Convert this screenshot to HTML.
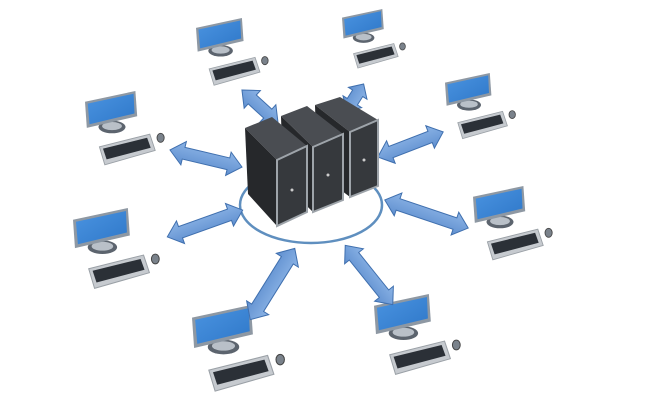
<!DOCTYPE html>
<html><head><meta charset="utf-8"><style>
html,body{margin:0;padding:0;background:#fff;}
svg{display:block;}
</style></head><body>
<svg width="651" height="406" viewBox="0 0 651 406" xmlns="http://www.w3.org/2000/svg">
<defs>
<linearGradient id="blue" x1="0" y1="0" x2="1" y2="1">
<stop offset="0" stop-color="#4a93e0"/><stop offset="1" stop-color="#2f78c9"/>
</linearGradient>
<linearGradient id="arr" x1="0" y1="0" x2="0" y2="1">
<stop offset="0" stop-color="#8cb4e6"/><stop offset="1" stop-color="#5f8fcf"/>
</linearGradient>
<g id="pc">
<ellipse cx="30" cy="40" rx="15" ry="7" fill="#5c646e"/>
<ellipse cx="30" cy="39" rx="11" ry="4.5" fill="#b9c0c8"/>
<polygon points="0,12 56,0 58,28 2,41" fill="#8e98a3"/>
<polygon points="3,14 54,3 55,25 5,37" fill="url(#blue)"/>
<polygon points="16,62 72,48 78,66 22,82" fill="#c6cacf" stroke="#9aa0a6" stroke-width="1"/>
<polygon points="20,64 69,52 73,63 24,76" fill="#2b3037"/>
<ellipse cx="84" cy="52" rx="4" ry="5" fill="#7a828b" stroke="#444" stroke-width="1"/>
</g>
</defs>

<use href="#pc" transform="translate(196,18) scale(0.82)"/>
<use href="#pc" transform="translate(342,9) scale(0.72)"/>
<use href="#pc" transform="translate(445,73) scale(0.8)"/>
<use href="#pc" transform="translate(85,91) scale(0.9)"/>
<use href="#pc" transform="translate(473,186) scale(0.9)"/>
<use href="#pc" transform="translate(73,208) scale(0.98)"/>
<use href="#pc" transform="translate(192,305) scale(1.05)"/>
<use href="#pc" transform="translate(374,294) scale(0.98)"/>

<ellipse cx="311" cy="205" rx="71" ry="38" fill="none" stroke="#5f8fbf" stroke-width="2.5"/>

<g fill="url(#arr)" stroke="#3f6fae" stroke-width="1">
<polygon transform="translate(260,106.5) rotate(42.5)" points="-24.5,0 -10.5,-12 -10.5,-6 10.5,-6 10.5,-12 24.5,0 10.5,12 10.5,6 -10.5,6 -10.5,12"/>
<polygon transform="translate(355,97.5) rotate(122.6)" points="-16,0 -5,-11 -5,-6 5,-6 5,-11 16,0 5,11 5,6 -5,6 -5,11"/>
<polygon transform="translate(410.5,144.5) rotate(-21)" points="-35,0 -21,-12 -21,-6 21,-6 21,-12 35,0 21,12 21,6 -21,6 -21,12"/>
<polygon transform="translate(206,158.5) rotate(13.3)" points="-37,0 -23,-12 -23,-6 23,-6 23,-12 37,0 23,12 23,6 -23,6 -23,12"/>
<polygon transform="translate(205,223.5) rotate(-19.6)" points="-40,0 -26,-12 -26,-6 26,-6 26,-12 40,0 26,12 26,6 -26,6 -26,12"/>
<polygon transform="translate(426.5,214) rotate(18.6)" points="-44,0 -30,-12 -30,-6 30,-6 30,-12 44,0 30,12 30,6 -30,6 -30,12"/>
<polygon transform="translate(272.5,284) rotate(122)" points="-42,0 -28,-13 -28,-7 28,-7 28,-13 42,0 28,13 28,7 -28,7 -28,13"/>
<polygon transform="translate(369,275) rotate(51.3)" points="-38,0 -24,-12 -24,-6 24,-6 24,-12 38,0 24,12 24,6 -24,6 -24,12"/>
</g>

<polygon points="315,105 340,97 378,120 350,132" fill="#4a4d52"/>
<polygon points="315,105 350,132 350,197 317,172" fill="#26282b"/>
<polygon points="350,132 378,120 378,186 350,197" fill="#36393d" stroke="#9ea4aa" stroke-width="2"/>
<circle cx="364" cy="160" r="1.5" fill="#ccc"/>
<polygon points="281,116 307,106 343,134 313,147" fill="#4a4d52"/>
<polygon points="281,116 313,147 313,212 283,183" fill="#26282b"/>
<polygon points="313,147 343,134 343,200 313,212" fill="#36393d" stroke="#9ea4aa" stroke-width="2"/>
<circle cx="328" cy="175" r="1.5" fill="#ccc"/>
<polygon points="245,128 272,117 307,146 277,160" fill="#4a4d52"/>
<polygon points="245,128 277,160 277,226 248,194" fill="#26282b"/>
<polygon points="277,160 307,146 307,212 277,226" fill="#36393d" stroke="#9ea4aa" stroke-width="2"/>
<circle cx="292" cy="190" r="1.5" fill="#ccc"/>
</svg>
</body></html>
